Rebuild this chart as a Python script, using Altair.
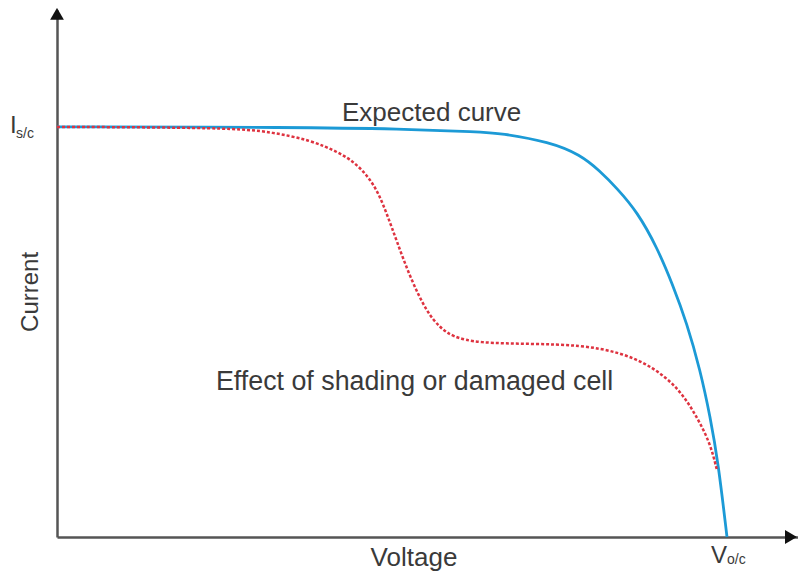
import altair as alt
import pandas as pd

# Expected I-V curve (voltage normalised to Voc = 1, current to Isc = 1)
exp_v = [0.0, 0.363, 0.512, 0.631, 0.661, 0.736, 0.781, 0.810, 0.836, 0.866,
         0.896, 0.919, 0.940, 0.960, 0.975, 0.987, 1.0]
exp_i = [1.0, 0.999, 0.995, 0.988, 0.985, 0.963, 0.932, 0.893, 0.850, 0.793,
         0.705, 0.615, 0.522, 0.407, 0.293, 0.180, 0.0]

# Effect of shading or damaged cell
sh_v = [0.0, 0.258, 0.318, 0.378, 0.422, 0.445, 0.465, 0.480, 0.493, 0.507,
        0.527, 0.552, 0.572, 0.591, 0.627, 0.710, 0.781, 0.840, 0.890, 0.930,
        0.955, 0.975, 0.985]
sh_i = [1.0, 0.998, 0.988, 0.968, 0.937, 0.912, 0.878, 0.838, 0.785, 0.722,
        0.633, 0.548, 0.510, 0.488, 0.473, 0.471, 0.468, 0.451, 0.415, 0.359,
        0.293, 0.229, 0.163]

X_MAX = 1.106
Y_MAX = 1.285

x_scale = alt.Scale(domain=[0, X_MAX], nice=False, zero=False)
y_scale = alt.Scale(domain=[0, Y_MAX], nice=False, zero=False)
axis_x = alt.Axis(labels=False, ticks=False, title=None, grid=False,
                  domainColor="#555555", domainWidth=2.5)
axis_y = alt.Axis(labels=False, ticks=False, title=None, grid=False,
                  domainColor="#555555", domainWidth=2.5)

exp_df = pd.DataFrame({"V": exp_v, "I": exp_i})
sh_df = pd.DataFrame({"V": sh_v, "I": sh_i})

base_x = alt.X("V:Q", scale=x_scale, axis=axis_x)
base_y = alt.Y("I:Q", scale=y_scale, axis=axis_y)

expected = alt.Chart(exp_df).mark_line(
    color="#1c9ad6", strokeWidth=2.8, interpolate="basis"
).encode(x=base_x, y=base_y)

shaded = alt.Chart(sh_df).mark_line(
    color="#de3340", strokeWidth=2.5, strokeDash=[3, 2], interpolate="basis"
).encode(x=base_x, y=base_y)

# arrow heads at the axis ends
arrows = pd.DataFrame({
    "V": [0.0, 1.0955],
    "I": [1.2756, 0.0],
    "shape": ["triangle-up", "triangle-right"],
})
arrow_marks = alt.Chart(arrows).mark_point(
    filled=True, color="#111111", size=190, opacity=1
).encode(
    x=alt.X("V:Q", scale=x_scale),
    y=alt.Y("I:Q", scale=y_scale),
    shape=alt.Shape("shape:N", scale=None),
)

TEXT_COLOR = "#3a3a3a"
FONT = "Liberation Sans"

lab1 = alt.Chart(pd.DataFrame({"text": ["Expected curve"], "V": [0.4254], "I": [1.0146]})).mark_text(
    align="left", baseline="alphabetic", font=FONT, fontSize=26, color=TEXT_COLOR
).encode(x=alt.X("V:Q", scale=x_scale), y=alt.Y("I:Q", scale=y_scale), text="text:N")

lab2 = alt.Chart(pd.DataFrame({"text": ["Effect of shading or damaged cell"], "V": [0.2373], "I": [0.3585]})).mark_text(
    align="left", baseline="alphabetic", font=FONT, fontSize=26.8, color=TEXT_COLOR
).encode(x=alt.X("V:Q", scale=x_scale), y=alt.Y("I:Q", scale=y_scale), text="text:N")

xtitle = alt.Chart(pd.DataFrame({"text": ["Voltage"], "V": [0.5328], "I": [-0.0707]})).mark_text(
    align="center", baseline="alphabetic", font=FONT, fontSize=26, color=TEXT_COLOR
).encode(x=alt.X("V:Q", scale=x_scale), y=alt.Y("I:Q", scale=y_scale), text="text:N")

ytitle = alt.Chart(pd.DataFrame({"text": ["Current"], "V": [-0.0284], "I": [0.5976]})).mark_text(
    align="center", baseline="alphabetic", font=FONT, fontSize=24, color=TEXT_COLOR, angle=270
).encode(x=alt.X("V:Q", scale=x_scale), y=alt.Y("I:Q", scale=y_scale), text="text:N")

big_sym = pd.DataFrame({"text": ["I", "V"], "V": [-0.0701, 0.9761], "I": [0.9854, -0.0634]})
big_marks = alt.Chart(big_sym).mark_text(
    align="left", baseline="alphabetic", font=FONT, fontSize=24, color=TEXT_COLOR
).encode(x=alt.X("V:Q", scale=x_scale), y=alt.Y("I:Q", scale=y_scale), text="text:N")

sub_sym = pd.DataFrame({"text": ["s/c", "o/c"], "V": [-0.0612, 1.0], "I": [0.9732, -0.0659]})
sub_marks = alt.Chart(sub_sym).mark_text(
    align="left", baseline="alphabetic", font=FONT, fontSize=14, color=TEXT_COLOR
).encode(x=alt.X("V:Q", scale=x_scale), y=alt.Y("I:Q", scale=y_scale), text="text:N")

chart = alt.layer(
    expected, shaded, arrow_marks, lab1, lab2, xtitle, ytitle, big_marks, sub_marks
).properties(
    width=741,
    height=527,
    padding={"left": 49, "top": 2, "right": 0, "bottom": 38},
    autosize=alt.AutoSizeParams(type="none"),
    background="white",
).configure_view(stroke=None)

chart.save("out.html", embed_options={"renderer": "svg", "actions": False})
